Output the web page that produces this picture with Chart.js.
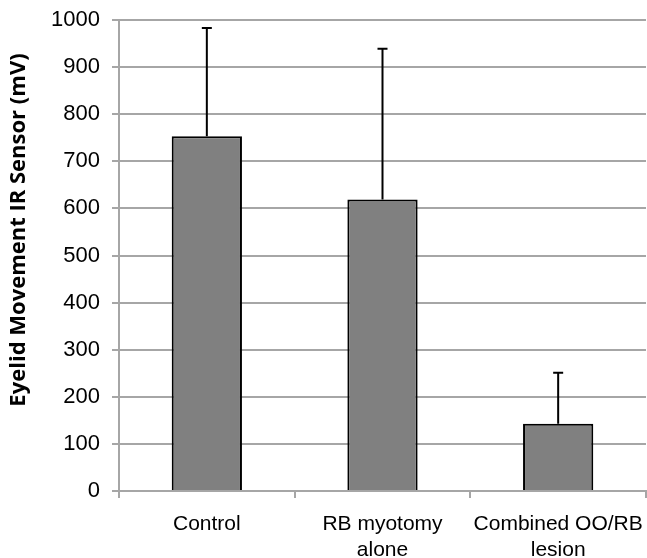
<!DOCTYPE html>
<html>
<head>
<meta charset="utf-8">
<script src="https://cdn.jsdelivr.net/npm/chart.js@4"></script>
<style>
  body { margin: 0; background: #fff; }
  #wrap { width: 647px; height: 558px; }
</style>
</head>
<body>
<div id="wrap"><canvas id="barChart" width="647" height="558"></canvas></div>
<script>
// data
var groups = [['Control'], ['RB myotomy', 'alone'], ['Combined OO/RB', 'lesion']];
var means = [753, 619, 143];
var errUp = [230, 320, 108];
var yTicks = [0, 100, 200, 300, 400, 500, 600, 700, 800, 900, 1000];
var yTitle = 'Eyelid Movement IR Sensor (mV)';

// simple upward error bars with a small cap, plus the axis title
var errorBars = {
    id: 'errorBars',
    afterDatasetsDraw: function(chart) {
        var ctx = chart.ctx;
        var meta = chart.getDatasetMeta(0);
        var y = chart.scales.y;
        ctx.save();
        ctx.strokeStyle = '#000';
        ctx.lineWidth = 2;
        for (var i = 0; i < means.length; i++) {
            var x = meta.data[i].x;
            var top = y.getPixelForValue(means[i] + errUp[i]);
            var base = y.getPixelForValue(means[i]);
            ctx.beginPath();
            ctx.moveTo(x, base);
            ctx.lineTo(x, top);
            ctx.moveTo(x - 5, top);
            ctx.lineTo(x + 5, top);
            ctx.stroke();
        }
        // y title sits a bit above the plot middle in the original
        ctx.translate(19, 230);
        ctx.rotate(-Math.PI / 2);
        ctx.fillStyle = '#000';
        ctx.font = 'bold 22px "Open Sans"';
        ctx.textAlign = 'center';
        ctx.textBaseline = 'middle';
        ctx.fillText(yTitle, 0, 0);
        ctx.restore();
    }
};

var ctx = document.getElementById('barChart').getContext('2d');
var chart1 = new Chart(ctx, {
    type: 'bar',
    data: {
        labels: groups,
        datasets: [{
            data: means,
            backgroundColor: '#808080',
            borderColor: '#000',
            borderWidth: 2,
            categoryPercentage: 1,
            barPercentage: 0.4
        }]
    },
    options: {
        responsive: false,
        animation: false,
        layout: { padding: { top: 20, right: 1, left: 0, bottom: 0 } },
        plugins: {
            legend: { display: false },
            tooltip: { enabled: false }
        },
        scales: {
            x: {
                offset: true,
                afterFit: function(scale) {
                    scale.height = 67;
                    scale.paddingLeft = 0;
                    scale.paddingRight = 0;
                },
                grid: {
                    offset: true,
                    drawOnChartArea: false,
                    color: '#a6a6a6',
                    lineWidth: 2,
                    tickLength: 7
                },
                border: { color: '#a6a6a6', width: 2 },
                ticks: {
                    color: '#000',
                    padding: 14,
                    maxRotation: 0,
                    autoSkip: false,
                    font: { family: 'Liberation Sans', size: 21 }
                }
            },
            y: {
                min: 0,
                max: 1000,
                afterFit: function(scale) {
                    scale.width = 119;
                    scale.paddingTop = 0;
                    scale.paddingBottom = 0;
                },
                afterBuildTicks: function(scale) {
                    scale.ticks = yTicks.map(function(v) { return { value: v }; });
                },
                grid: {
                    color: '#a6a6a6',
                    lineWidth: 2,
                    tickLength: 7
                },
                border: { color: '#a6a6a6', width: 2 },
                ticks: {
                    color: '#000',
                    padding: 12,
                    font: { family: 'Liberation Sans', size: 22 },
                    callback: function(v) { return String(v); }
                }
            }
        }
    },
    plugins: [errorBars]
});
</script>
</body>
</html>
